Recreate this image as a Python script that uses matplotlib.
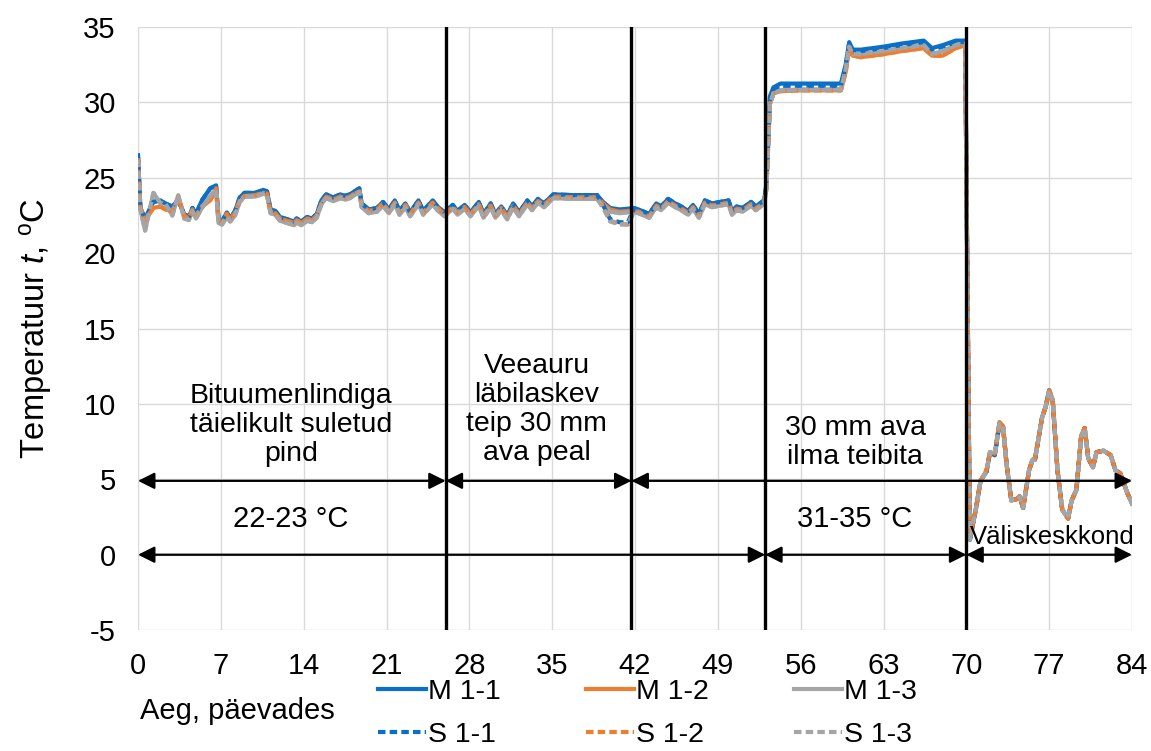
import matplotlib
matplotlib.use("Agg")
import matplotlib.pyplot as plt

plt.rcParams["font.family"] = ["Liberation Sans", "DejaVu Sans"]
plt.rcParams["mathtext.fontset"] = "custom"
plt.rcParams["mathtext.rm"] = "Liberation Sans"
plt.rcParams["mathtext.it"] = "Liberation Sans:italic"
plt.rcParams["axes.unicode_minus"] = False

# measurement time, days
days = [
    0.0, 0.2, 0.6, 1.3, 1.9, 2.3, 2.9, 3.4, 3.9, 4.3,
    4.6, 4.9, 5.4, 6.1, 6.6, 6.8, 7.1, 7.5, 7.8, 8.2,
    8.6, 9.0, 9.9, 10.6, 10.9, 11.2, 11.6, 12.0, 12.4, 12.8,
    13.2, 13.4, 13.8, 14.3, 14.7, 15.1, 15.5, 15.9, 16.5, 17.1,
    17.5, 17.9, 18.3, 18.7, 18.9, 19.5, 20.2, 20.7, 21.2, 21.7,
    22.1, 22.6, 23.0, 23.7, 24.1, 24.9, 25.3, 25.9, 26.6, 27.0,
    27.6, 28.1, 28.8, 29.2, 29.8, 30.2, 30.7, 31.2, 31.7, 32.2,
    32.9, 33.3, 33.8, 34.3, 35.1, 36.8, 38.8, 39.3, 39.9, 40.7,
    41.4, 41.9, 42.3, 42.9, 43.2, 43.8, 44.2, 44.8, 45.4, 45.9,
    46.5, 46.9, 47.4, 47.9, 48.5, 49.2, 49.9, 50.2, 50.6, 51.1,
    51.8, 52.2, 52.9, 53.1, 53.4, 53.7, 54.3, 56.0, 59.4, 59.8,
    60.1, 60.4, 61.1, 63.0, 64.5, 66.4, 67.1, 68.0, 69.1, 69.9,
    70.3, 70.8, 71.2, 71.7, 72.0, 72.4, 72.8, 73.1, 73.4, 73.8,
    74.3, 74.5, 74.8, 75.3, 75.6, 75.8, 76.4, 76.7, 77.0, 77.3,
    77.7, 78.1, 78.6, 78.9, 79.3, 79.7, 80.0, 80.3, 80.7, 81.0,
    81.6, 82.2, 82.6, 83.0, 83.6, 84.0,
]

m11 = [
    26.5, 23.0, 22.3, 23.4, 23.5, 23.3, 23.1, 23.5, 22.6, 22.4,
    23.0, 22.6, 23.5, 24.3, 24.5, 22.3, 22.1, 22.7, 22.3, 22.8,
    23.7, 24.0, 24.0, 24.2, 24.1, 22.9, 22.8, 22.4, 22.3, 22.2,
    22.1, 22.3, 22.1, 22.4, 22.3, 22.6, 23.5, 23.9, 23.7, 23.9,
    23.8, 23.9, 24.1, 24.3, 23.3, 22.9, 23.0, 23.4, 22.9, 23.5,
    22.8, 23.3, 22.7, 23.5, 22.8, 23.5, 23.1, 22.7, 23.2, 22.8,
    23.2, 22.7, 23.4, 22.6, 23.3, 22.6, 23.1, 22.5, 23.3, 22.7,
    23.5, 23.1, 23.6, 23.3, 23.9, 23.85, 23.85, 23.4, 23.0, 22.9,
    22.95, 23.0, 22.9, 22.7, 22.6, 23.3, 23.1, 23.6, 23.3, 23.1,
    22.8, 23.2, 22.6, 23.5, 23.3, 23.4, 23.5, 22.8, 23.1, 23.0,
    23.4, 23.1, 23.5, 24.5, 30.4, 31.0, 31.25, 31.25, 31.25, 32.5,
    34.0, 33.5, 33.5, 33.7, 33.9, 34.1, 33.6, 33.8, 34.1, 34.1,
    1.0, 3.0, 4.9, 5.5, 6.8, 6.6, 8.7, 8.5, 6.0, 3.6,
    3.7, 3.85, 3.1, 5.6, 6.3, 6.3, 9.1, 9.8, 10.9, 10.2,
    5.6, 3.0, 2.4, 3.6, 4.3, 7.8, 8.4, 6.4, 5.8, 6.8,
    6.9, 6.6, 5.6, 5.4, 4.1, 3.4,
]

m12 = [
    26.3, 23.0, 22.2, 23.0, 23.1, 22.9, 22.8, 23.7, 22.5, 22.3,
    22.9, 22.5, 23.1, 23.5, 24.3, 22.2, 22.0, 22.6, 22.2, 22.7,
    23.5, 23.8, 23.85, 24.0, 23.95, 22.75, 22.65, 22.3, 22.2, 22.1,
    22.0, 22.2, 22.0, 22.3, 22.2, 22.5, 23.3, 23.75, 23.55, 23.75,
    23.65, 23.75, 23.95, 24.1, 23.2, 22.8, 22.9, 23.3, 22.8, 23.35,
    22.7, 23.2, 22.6, 23.35, 22.7, 23.35, 23.0, 22.6, 23.05, 22.7,
    23.05, 22.6, 23.25, 22.5, 23.15, 22.5, 23.0, 22.4, 23.15, 22.6,
    23.35, 23.0, 23.45, 23.2, 23.75, 23.7, 23.7, 23.3, 22.9, 22.75,
    22.8, 22.85, 22.75, 22.5, 22.45, 23.15, 22.95, 23.45, 23.15, 22.95,
    22.65, 23.05, 22.45, 23.35, 23.15, 23.25, 23.35, 22.65, 22.95, 22.85,
    23.25, 22.95, 23.35, 24.3, 29.9, 30.6, 30.75, 30.8, 30.8, 32.0,
    33.6, 33.1, 33.0, 33.2, 33.4, 33.6, 33.1, 33.1, 33.6, 33.8,
    1.1, 3.0, 4.9, 5.6, 6.8, 6.7, 8.8, 8.5, 6.0, 3.6,
    3.7, 3.9, 3.1, 5.6, 6.3, 6.4, 9.1, 9.8, 10.9, 10.3,
    5.6, 3.0, 2.4, 3.6, 4.3, 7.9, 8.4, 6.4, 5.8, 6.8,
    6.9, 6.6, 5.6, 5.4, 4.1, 3.4,
]

m13 = [
    26.2, 22.9, 21.5, 24.0, 23.3, 23.3, 22.5, 23.85, 22.3, 22.2,
    22.8, 22.3, 23.0, 23.8, 24.2, 22.0, 21.9, 22.4, 22.1, 22.5,
    23.4, 23.75, 23.75, 23.95, 23.85, 22.65, 22.55, 22.15, 22.05, 21.95,
    21.85, 22.05, 21.85, 22.15, 22.05, 22.35, 23.25, 23.65, 23.45, 23.65,
    23.55, 23.65, 23.85, 24.05, 23.05, 22.65, 22.75, 23.15, 22.65, 23.25,
    22.55, 23.05, 22.45, 23.25, 22.55, 23.25, 22.85, 22.45, 22.95, 22.55,
    22.95, 22.45, 23.15, 22.35, 23.05, 22.35, 22.85, 22.25, 23.05, 22.45,
    23.25, 22.85, 23.35, 23.05, 23.65, 23.6, 23.6, 23.15, 22.75, 22.65,
    22.7, 22.75, 22.65, 22.45, 22.35, 23.05, 22.85, 23.35, 23.05, 22.85,
    22.55, 22.95, 22.35, 23.25, 23.05, 23.15, 23.25, 22.55, 22.85, 22.75,
    23.15, 22.85, 23.25, 24.2, 29.9, 30.6, 30.8, 30.85, 30.85, 32.2,
    33.7, 33.2, 33.2, 33.4, 33.6, 33.8, 33.2, 33.4, 33.8, 33.9,
    1.0, 3.0, 4.9, 5.5, 6.8, 6.6, 8.7, 8.5, 6.0, 3.6,
    3.7, 3.85, 3.1, 5.6, 6.3, 6.3, 9.1, 9.8, 10.9, 10.2,
    5.6, 3.0, 2.4, 3.6, 4.3, 7.8, 8.4, 6.4, 5.8, 6.8,
    6.9, 6.6, 5.6, 5.4, 4.1, 3.4,
]

s11 = [
    26.5, 23.0, 22.3, 23.4, 23.5, 23.3, 23.1, 23.5, 22.6, 22.4,
    23.0, 22.6, 23.5, 24.3, 24.5, 22.3, 22.1, 22.7, 22.3, 22.8,
    23.7, 24.0, 24.0, 24.2, 24.1, 22.9, 22.8, 22.4, 22.3, 22.2,
    22.1, 22.3, 22.1, 22.4, 22.3, 22.6, 23.5, 23.9, 23.7, 23.9,
    23.8, 23.9, 24.1, 24.3, 23.3, 22.9, 23.0, 23.4, 22.9, 23.5,
    22.8, 23.3, 22.7, 23.5, 22.8, 23.5, 23.1, 22.7, 23.2, 22.8,
    23.2, 22.7, 23.4, 22.6, 23.3, 22.6, 23.1, 22.5, 23.3, 22.7,
    23.5, 23.1, 23.6, 23.3, 23.9, 23.85, 23.85, 23.2, 22.25, 22.05,
    22.05, 22.95, 22.9, 22.7, 22.6, 23.3, 23.1, 23.6, 23.3, 23.1,
    22.8, 23.2, 22.6, 23.5, 23.3, 23.4, 23.5, 22.8, 23.1, 23.0,
    23.4, 23.1, 23.5, 24.5, 30.3, 30.9, 31.1, 31.1, 31.1, 32.4,
    33.9, 33.4, 33.4, 33.6, 33.8, 34.0, 33.5, 33.7, 34.0, 34.0,
    1.0, 3.0, 4.9, 5.5, 6.8, 6.6, 8.7, 8.5, 6.0, 3.6,
    3.7, 3.85, 3.1, 5.6, 6.3, 6.3, 9.1, 9.8, 10.9, 10.2,
    5.6, 3.0, 2.4, 3.6, 4.3, 7.8, 8.4, 6.4, 5.8, 6.8,
    6.9, 6.6, 5.6, 5.4, 4.1, 3.4,
]

s12 = [
    26.3, 23.0, 22.2, 23.0, 23.1, 22.9, 22.8, 23.7, 22.5, 22.3,
    22.9, 22.5, 23.1, 23.5, 24.3, 22.2, 22.0, 22.6, 22.2, 22.7,
    23.5, 23.8, 23.85, 24.0, 23.95, 22.75, 22.65, 22.3, 22.2, 22.1,
    22.0, 22.2, 22.0, 22.3, 22.2, 22.5, 23.3, 23.75, 23.55, 23.75,
    23.65, 23.75, 23.95, 24.1, 23.2, 22.8, 22.9, 23.3, 22.8, 23.35,
    22.7, 23.2, 22.6, 23.35, 22.7, 23.35, 23.0, 22.6, 23.05, 22.7,
    23.05, 22.6, 23.25, 22.5, 23.15, 22.5, 23.0, 22.4, 23.15, 22.6,
    23.35, 23.0, 23.45, 23.2, 23.75, 23.7, 23.7, 23.1, 22.15, 21.95,
    21.9, 22.8, 22.75, 22.5, 22.45, 23.15, 22.95, 23.45, 23.15, 22.95,
    22.65, 23.05, 22.45, 23.35, 23.15, 23.25, 23.35, 22.65, 22.95, 22.85,
    23.25, 22.95, 23.35, 24.3, 29.9, 30.6, 30.75, 30.8, 30.8, 32.0,
    33.6, 33.1, 33.0, 33.2, 33.4, 33.6, 33.1, 33.1, 33.6, 33.8,
    1.1, 3.0, 4.9, 5.6, 6.8, 6.7, 8.8, 8.5, 6.0, 3.6,
    3.7, 3.9, 3.1, 5.6, 6.3, 6.4, 9.1, 9.8, 10.9, 10.3,
    5.6, 3.0, 2.4, 3.6, 4.3, 7.9, 8.4, 6.4, 5.8, 6.8,
    6.9, 6.6, 5.6, 5.4, 4.1, 3.4,
]

s13 = [
    26.2, 22.9, 21.5, 24.0, 23.3, 23.3, 22.5, 23.85, 22.3, 22.2,
    22.8, 22.3, 23.0, 23.8, 24.2, 22.0, 21.9, 22.4, 22.1, 22.5,
    23.4, 23.75, 23.75, 23.95, 23.85, 22.65, 22.55, 22.15, 22.05, 21.95,
    21.85, 22.05, 21.85, 22.15, 22.05, 22.35, 23.25, 23.65, 23.45, 23.65,
    23.55, 23.65, 23.85, 24.05, 23.05, 22.65, 22.75, 23.15, 22.65, 23.25,
    22.55, 23.05, 22.45, 23.25, 22.55, 23.25, 22.85, 22.45, 22.95, 22.55,
    22.95, 22.45, 23.15, 22.35, 23.05, 22.35, 22.85, 22.25, 23.05, 22.45,
    23.25, 22.85, 23.35, 23.05, 23.65, 23.6, 23.6, 23.0, 22.1, 21.9,
    21.9, 22.7, 22.65, 22.45, 22.35, 23.05, 22.85, 23.35, 23.05, 22.85,
    22.55, 22.95, 22.35, 23.25, 23.05, 23.15, 23.25, 22.55, 22.85, 22.75,
    23.15, 22.85, 23.25, 24.2, 29.9, 30.6, 30.8, 30.85, 30.85, 32.2,
    33.7, 33.2, 33.2, 33.4, 33.6, 33.8, 33.2, 33.4, 33.8, 33.9,
    1.0, 3.0, 4.9, 5.5, 6.8, 6.6, 8.7, 8.5, 6.0, 3.6,
    3.7, 3.85, 3.1, 5.6, 6.3, 6.3, 9.1, 9.8, 10.9, 10.2,
    5.6, 3.0, 2.4, 3.6, 4.3, 7.8, 8.4, 6.4, 5.8, 6.8,
    6.9, 6.6, 5.6, 5.4, 4.1, 3.4,
]

series_names = ["M 1-1", "M 1-2", "M 1-3", "S 1-1", "S 1-2", "S 1-3"]
phase_lines = [26, 41.7, 53, 70]
arrows_top = [(0, 26), (26, 41.7), (41.7, 84)]
arrows_bottom = [(0, 53), (53, 70), (70, 84)]
x_ticks = list(range(0, 85, 7))
y_ticks = list(range(-5, 36, 5))

BLUE = "#0A6FC8"
ORANGE = "#ED7D31"
GRAY = "#A5A5A5"

fig = plt.figure(figsize=(11.51, 7.51), dpi=100)
ax = fig.add_axes([0.1199, 0.161, 0.8636, 0.803])

values = [m11, m12, m13, s11, s12, s13]
colors = [BLUE, ORANGE, GRAY, BLUE, ORANGE, GRAY]
handles = []
for name, vals, color in zip(series_names, values, colors):
    (ln,) = ax.plot(days, vals, color=color, lw=3.0, label=name, zorder=3)
    if name.startswith("S"):
        ln.set_dashes((1.8, 1.0))
    handles.append(ln)

for x in phase_lines:
    ax.axvline(x, color="black", lw=2.4, zorder=4)


def double_arrow(x0, x1, y):
    ax.annotate("", xy=(x1, y), xytext=(x0, y),
                arrowprops=dict(arrowstyle="<|-|>", color="black", lw=1.6,
                                mutation_scale=25, shrinkA=0, shrinkB=0),
                zorder=5)


for x0, x1 in arrows_top:
    double_arrow(x0, x1, 4.9)
for x0, x1 in arrows_bottom:
    double_arrow(x0, x1, 0)

ax.text(12.9, 8.6, "Bituumenlindiga\ntäielikult suletud\npind", ha="center", va="center",
        fontsize=20.5, linespacing=1.15)
ax.text(33.7, 9.6, "Veeauru\nläbilaskev\nteip 30 mm\nava peal", ha="center", va="center",
        fontsize=20.5, linespacing=1.15)
ax.text(60.6, 7.45, "30 mm ava\nilma teibita", ha="center", va="center",
        fontsize=20.5, linespacing=1.15)
ax.text(12.9, 2.35, "22-23 °C", ha="center", va="center", fontsize=21)
ax.text(60.6, 2.35, "31-35 °C", ha="center", va="center", fontsize=21)
ax.text(77.3, 1.15, "Väliskeskkond", ha="center", va="center", fontsize=18.5)

ax.set_xlim(0, 84)
ax.set_ylim(-5, 35)
ax.set_xticks(x_ticks)
ax.set_yticks(y_ticks)
ax.tick_params(length=0, pad=16, labelsize=21)
ax.grid(True, color="#D9D9D9", lw=1.0)
ax.set_axisbelow(True)
for sp in ax.spines.values():
    sp.set_visible(False)

fig.text(35 / 1151, 1 - 328 / 751, r"Temperatuur $\it{t}$, $^{\rm o}$C", rotation=90,
         ha="center", va="center", fontsize=23.5)
fig.text(140 / 1151, 1 - 711 / 751, "Aeg, päevades", ha="left", va="center", fontsize=21)

order = [0, 3, 1, 4, 2, 5]
fig.legend([handles[i] for i in order], [series_names[i] for i in order], ncol=3,
           loc="upper left", bbox_to_anchor=(378 / 1151, 1 - 679 / 751), frameon=False,
           fontsize=20.5, handlelength=1.7, handletextpad=0.05, columnspacing=3.0,
           labelspacing=0.6, borderpad=0, borderaxespad=0)

fig.savefig("out.png", dpi=100)
